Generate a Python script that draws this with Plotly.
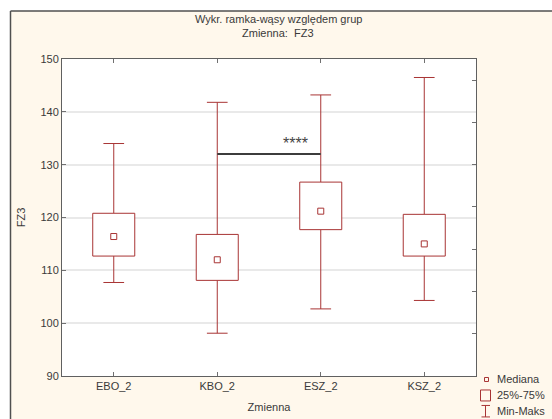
import plotly.graph_objects as go

# Group statistics for FZ3
categories = ["EBO_2", "KBO_2", "ESZ_2", "KSZ_2"]
minimum = [107.7, 98.1, 102.7, 104.3]
q1 = [112.7, 108.1, 117.7, 112.7]
median = [116.4, 112.0, 121.2, 115.0]
q3 = [120.8, 116.8, 126.7, 120.6]
maximum = [134.0, 141.8, 143.2, 146.5]

# Significance bracket between KBO_2 and ESZ_2
bracket_pair = (1, 2)
bracket_level = 132.0
bracket_label = "****"

y_ticks = [90, 100, 110, 120, 130, 140, 150]
right_ticks = [98, 106, 114, 122, 130, 138, 146]

W, H = 552, 419
L, R, T, B = 62, 476, 58.5, 376  # plot area in pixels

def px(x):
    return (x - L) / (R - L)

def py(y):
    return (B - y) / (B - T)

RED = "#a83434"
GREY_TXT = "#3a3a3a"
FONT = "Liberation Sans, Arial, sans-serif"

box_hw = 0.203
cap_hw = 0.10

xpos = list(range(len(categories)))

# Build box outlines, whiskers and caps from the statistics
bx, by = [], []
wx, wy = [], []
for i in xpos:
    bx += [i - box_hw, i + box_hw, i + box_hw, i - box_hw, i - box_hw, None]
    by += [q1[i], q1[i], q3[i], q3[i], q1[i], None]
    wx += [i, i, None, i, i, None]
    wy += [q3[i], maximum[i], None, q1[i], minimum[i], None]
    wx += [i - cap_hw, i + cap_hw, None, i - cap_hw, i + cap_hw, None]
    wy += [maximum[i], maximum[i], None, minimum[i], minimum[i], None]

fig = go.Figure()
fig.add_trace(go.Scatter(x=wx, y=wy, mode="lines", line=dict(color=RED, width=1),
                         hoverinfo="skip", showlegend=False))
fig.add_trace(go.Scatter(x=bx, y=by, mode="lines", fill="toself", fillcolor="white",
                         line=dict(color=RED, width=1), hoverinfo="skip", showlegend=False))
fig.add_trace(go.Scatter(x=xpos, y=median, mode="markers",
                         marker=dict(symbol="square-open", size=6, color=RED, line=dict(width=1)),
                         showlegend=False))

# Bracket
fig.add_trace(go.Scatter(x=list(bracket_pair), y=[bracket_level, bracket_level], mode="lines",
                         line=dict(color="#3c3c3c", width=2), showlegend=False, hoverinfo="skip"))
# invisible trace to bind the right-hand axis
fig.add_trace(go.Scatter(x=[None], y=[None], yaxis="y2", showlegend=False))

shapes = []
# white strips outside the framed panel and the frame itself
shapes.append(dict(type="rect", xref="paper", yref="paper", x0=px(-5), x1=px(10), y0=py(430), y1=py(-5),
                   fillcolor="white", line=dict(width=0), layer="below"))
shapes.append(dict(type="rect", xref="paper", yref="paper", x0=px(-5), x1=px(560), y0=py(10.5), y1=py(-5),
                   fillcolor="white", line=dict(width=0), layer="below"))
shapes.append(dict(type="line", xref="paper", yref="paper", x0=px(10.5), x1=px(10.5), y0=py(430), y1=py(10.5),
                   line=dict(color="#505050", width=1.5), layer="below"))
shapes.append(dict(type="line", xref="paper", yref="paper", x0=px(10.5), x1=px(560), y0=py(10.5), y1=py(10.5),
                   line=dict(color="#505050", width=1.5), layer="below"))

# legend symbols
shapes.append(dict(type="rect", xref="paper", yref="paper", x0=px(484.5), x1=px(488.5), y0=py(381.5), y1=py(377.5),
                   line=dict(color=RED, width=1)))
shapes.append(dict(type="rect", xref="paper", yref="paper", x0=px(480.5), x1=px(490.5), y0=py(401), y1=py(390),
                   line=dict(color=RED, width=1)))
shapes.append(dict(type="line", xref="paper", yref="paper", x0=px(485.5), x1=px(485.5), y0=py(417), y1=py(405.5),
                   line=dict(color=RED, width=1)))
shapes.append(dict(type="line", xref="paper", yref="paper", x0=px(481.5), x1=px(490), y0=py(405.5), y1=py(405.5),
                   line=dict(color=RED, width=1)))
shapes.append(dict(type="line", xref="paper", yref="paper", x0=px(481.5), x1=px(490), y0=py(417), y1=py(417),
                   line=dict(color=RED, width=1)))

annotations = []
for label, yc in [("Mediana", 379.5), ("25%-75%", 395), ("Min-Maks", 411.5)]:
    annotations.append(dict(text=label, xref="paper", yref="paper", x=px(495), y=py(yc),
                            xanchor="left", yanchor="middle", showarrow=False,
                            font=dict(family=FONT, size=11, color=GREY_TXT)))
annotations.append(dict(text="Wykr. ramka-wąsy względem grup", xref="paper", yref="paper",
                        x=px(278), y=py(18), xanchor="center", yanchor="middle", showarrow=False,
                        font=dict(family=FONT, size=11, color=GREY_TXT)))
annotations.append(dict(text="Zmienna:  FZ3", xref="paper", yref="paper",
                        x=px(278), y=py(32), xanchor="center", yanchor="middle", showarrow=False,
                        font=dict(family=FONT, size=11, color=GREY_TXT)))
annotations.append(dict(text=bracket_label, x=1.76, y=bracket_level, xref="x", yref="y",
                        xanchor="center", yanchor="bottom", yshift=0, showarrow=False,
                        font=dict(family=FONT, size=16, color="#444444")))

fig.update_layout(
    width=W, height=H,
    margin=dict(l=L, r=W - R, t=T, b=H - B, pad=0, autoexpand=False),
    paper_bgcolor="#fff8ec",
    plot_bgcolor="white",
    font=dict(family=FONT, size=11, color=GREY_TXT),
    shapes=shapes,
    annotations=annotations,
    xaxis=dict(range=[-0.5, 3.5], tickvals=xpos, ticktext=categories, automargin=False,
               showgrid=False, zeroline=False, showline=True, linecolor="#606060", linewidth=1,
               mirror="ticks", ticks="inside", ticklen=4, tickcolor="#707070",
               title=dict(text="Zmienna", standoff=12, font=dict(size=11)),
               tickfont=dict(size=11)),
    yaxis=dict(range=[90, 150], tickvals=y_ticks, showgrid=True, gridcolor="#e9e9e9", gridwidth=2,
               automargin=False,
               zeroline=False, showline=True, linecolor="#606060", linewidth=1, mirror=True,
               ticks="inside", ticklen=4, tickcolor="#707070",
               title=dict(text="FZ3", standoff=12, font=dict(size=11)), tickfont=dict(size=11)),
    yaxis2=dict(range=[90, 150], overlaying="y", side="right", tickvals=right_ticks, automargin=False,
                showticklabels=False, ticks="inside", ticklen=4, tickcolor="#707070",
                showgrid=False, zeroline=False, showline=False),
    showlegend=False,
)

fig.write_html("out.html")
